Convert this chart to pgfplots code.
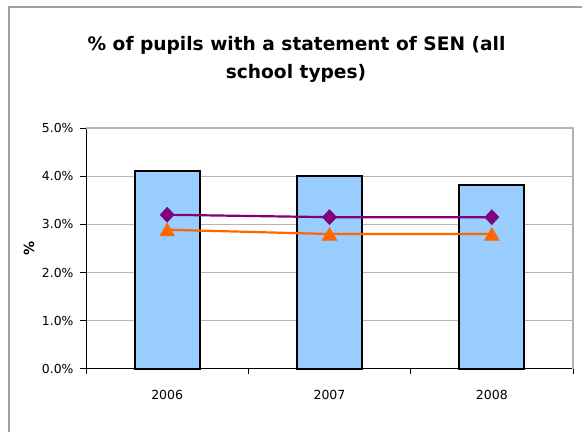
\documentclass[border=0pt]{standalone}
\usepackage{fontspec}
\setmainfont{DejaVu Sans}
\usepackage{pgfplots}
\pgfplotsset{compat=1.18}
\definecolor{barblue}{HTML}{99CCFF}
\definecolor{sepurple}{HTML}{800080}
\definecolor{seorange}{HTML}{FF6600}
\definecolor{gridgray}{HTML}{B4B4B4}
\definecolor{framegray}{HTML}{A0A0A0}
\begin{document}
\begin{tikzpicture}
\path[use as bounding box] (0bp,0bp) rectangle (582bp,432bp);
\draw[framegray, line width=1.5bp] (9bp,-5bp) -- (9bp,425bp) -- (590bp,425bp);
\node[anchor=base, font=\fontsize{18.6bp}{23bp}\selectfont\bfseries] at (296.5bp,381bp) {\% of pupils with a statement of SEN (all};
\node[anchor=base, font=\fontsize{18.6bp}{23bp}\selectfont\bfseries] at (296bp,353.7bp) {school types)};
\begin{axis}[
  at={(86bp,63bp)}, anchor=south west,
  width=487bp, height=241bp, scale only axis,
  xmin=-0.5, xmax=2.5, ymin=0, ymax=5,
  axis x line*=bottom, axis y line*=left,
  axis line style={black, line width=1bp},
  xtick={0,1,2}, xticklabels={2006,2007,2008},
  major x tick style={draw=none},
  minor xtick={-0.5,0.5,1.5,2.5},
  minor x tick style={black, line width=1bp},
  minor tick length=5bp,
  ytick={0,1,2,3,4,5},
  yticklabels={0.0\%,1.0\%,2.0\%,3.0\%,4.0\%,5.0\%},
  major y tick style={black, line width=1bp},
  major tick length=6bp,
  tick align=outside,
  ymajorgrids, grid style={gridgray, line width=1bp},
  xticklabel style={font=\fontsize{12.5bp}{15bp}\selectfont, yshift=-12bp},
  yticklabel style={font=\fontsize{12.4bp}{15bp}\selectfont, xshift=-3bp},
  /pgf/number format/assume math mode=true,
  ylabel={\%},
  ylabel style={font=\fontsize{14bp}{16bp}\selectfont\bfseries, at={(axis description cs:-0.117,0.498)}, anchor=center},
  clip=false,
]
\draw[gridgray, line width=1.5bp] (rel axis cs:0,1) -- (rel axis cs:1,1) -- (rel axis cs:1,0);
\addplot[ybar, bar width=65bp, fill=barblue, draw=black, line width=2bp] coordinates {(0,4.11) (1,4.0) (2,3.81)};
\addplot[sepurple, line width=2.2bp, mark=diamond*, mark size=7.5bp, mark options={fill=sepurple, line width=0.5bp, xscale=1.25}] coordinates {(0,3.2) (1,3.15) (2,3.15)};
\addplot[seorange, line width=2.2bp, mark=triangle*, mark size=8.5bp, mark options={fill=seorange, line width=0.5bp, yshift=-2bp}] coordinates {(0,2.89) (1,2.8) (2,2.8)};
\end{axis}
\end{tikzpicture}
\end{document}
